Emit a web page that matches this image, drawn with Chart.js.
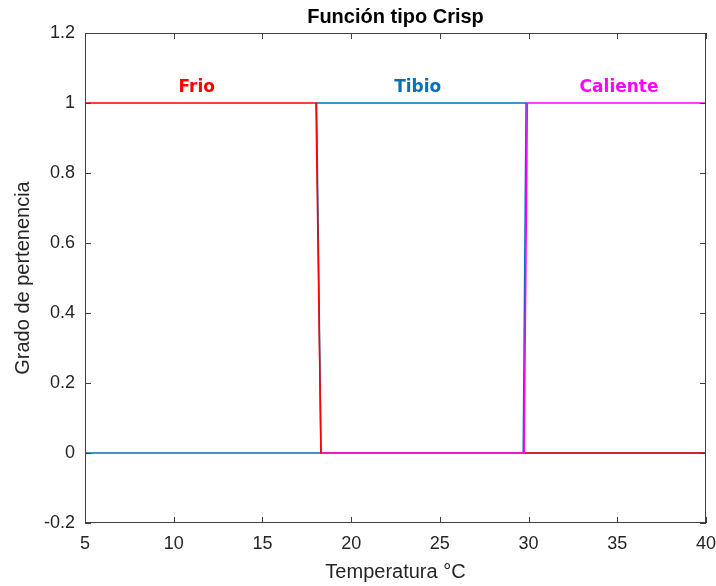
<!DOCTYPE html>
<html>
<head>
<meta charset="utf-8">
<script src="https://cdn.jsdelivr.net/npm/chart.js@4.4.1/dist/chart.umd.min.js"></script>
<style>
  body { margin: 0; background: #fff; }
  #wrap { width: 716px; height: 586px; }
</style>
</head>
<body>
<div id="wrap"><canvas id="crisp" width="716" height="586"></canvas></div>
<script>
// ====================
// DATA
// ====================
const frioX = [5, 18.02, 18.3, 40];
const frioY = [1, 1, 0, 0];

const tibioX = [5, 18.3, 18.05, 29.86, 29.7, 40];
const tibioY = [0, 0, 1, 1, 0, 0];

const calienteX = [18.35, 29.75, 29.93, 40];
const calienteY = [0, 0, 1, 1];

const xTicks = [5, 10, 15, 20, 25, 30, 35, 40];
const yTicks = [-0.2, 0, 0.2, 0.4, 0.6, 0.8, 1, 1.2];
const yTickLabels = ["-0.2", "0", "0.2", "0.4", "0.6", "0.8", "1", "1.2"];

// labels placed in data coordinates
const setNames = ["Frio", "Tibio", "Caliente"];
const setLabelX = [11.3, 23.75, 35.1];
const setLabelY = [1.043, 1.043, 1.043];
const setColors = ["#ff0000", "#0072bd", "#ff00ff"];

function toPoints(xs, ys) {
    return xs.map((x, i) => ({ x: x, y: ys[i] }));
}

const axisColor = "#404040";
const textColor = "#262626";

// box, inward ticks, title and set names
const decorPlugin = {
    id: "decor",
    afterDraw(chart) {
        const ctx = chart.ctx;
        const a = chart.chartArea;
        const xs = chart.scales.x;
        const ys = chart.scales.y;
        const len = 6;

        ctx.save();
        ctx.strokeStyle = axisColor;
        ctx.lineWidth = 1;
        ctx.beginPath();
        xTicks.forEach(v => {
            const px = Math.round(xs.getPixelForValue(v)) + 0.5;
            ctx.moveTo(px, a.bottom); ctx.lineTo(px, a.bottom - len);
            ctx.moveTo(px, a.top); ctx.lineTo(px, a.top + len);
        });
        yTicks.forEach(v => {
            const py = Math.round(ys.getPixelForValue(v)) + 0.5;
            ctx.moveTo(a.left, py); ctx.lineTo(a.left + len, py);
            ctx.moveTo(a.right, py); ctx.lineTo(a.right - len, py);
        });
        ctx.stroke();
        ctx.strokeRect(a.left + 0.5, a.top + 0.5, a.right - a.left - 1, a.bottom - a.top - 1);

        // title
        ctx.fillStyle = "#000";
        ctx.font = "bold 20px 'Liberation Sans', Arial, sans-serif";
        ctx.textAlign = "center";
        ctx.textBaseline = "alphabetic";
        ctx.fillText("Función tipo Crisp", (a.left + a.right) / 2, 23);

        // set names
        ctx.font = "bold 17px 'DejaVu Sans', Verdana, sans-serif";
        ctx.textBaseline = "middle";
        setNames.forEach((name, i) => {
            ctx.fillStyle = setColors[i];
            ctx.fillText(name, xs.getPixelForValue(setLabelX[i]), ys.getPixelForValue(setLabelY[i]));
        });
        ctx.restore();
    }
};

new Chart(document.getElementById("crisp"), {
    type: "scatter",
    data: {
        datasets: [
        {
            label: "Frio",
            data: toPoints(frioX, frioY),
            borderColor: setColors[0],
            order: 1
        },
        {
            label: "Tibio",
            data: toPoints(tibioX, tibioY),
            borderColor: setColors[1],
            order: 2
        },
        {
            label: "Caliente",
            data: toPoints(calienteX, calienteY),
            borderColor: setColors[2],
            order: 0
        }
        ]
    },
    options: {
        responsive: false,
        animation: false,
        showLine: true,
        elements: {
            point: { radius: 0, hoverRadius: 0 },
            line: { borderWidth: 1.6, tension: 0 }
        },
        layout: {
            padding: { top: 33, right: 10, left: 0, bottom: 0 }
        },
        plugins: {
            legend: { display: false },
            tooltip: { enabled: false },
            title: { display: false }
        },
        scales: {
            x: {
                type: "linear",
                min: 5,
                max: 40,
                afterBuildTicks(scale) {
                    scale.ticks = xTicks.map(v => ({ value: v }));
                },
                afterFit(scale) {
                    scale.height = 63;
                    scale.paddingLeft = 0;
                    scale.paddingRight = 0;
                },
                grid: { display: false, drawTicks: false },
                border: { display: false },
                ticks: {
                    padding: 10,
                    color: textColor,
                    maxRotation: 0,
                    autoSkip: false,
                    font: { family: "'Liberation Sans', Arial, sans-serif", size: 18 },
                    callback: v => String(v)
                },
                title: {
                    display: true,
                    text: "Temperatura °C",
                    color: textColor,
                    padding: { top: 0, bottom: 2 },
                    font: { family: "'Liberation Sans', Arial, sans-serif", size: 20 }
                }
            },
            y: {
                min: -0.2,
                max: 1.2,
                afterBuildTicks(scale) {
                    scale.ticks = yTicks.map(v => ({ value: v }));
                },
                afterFit(scale) {
                    scale.width = 85;
                    scale.paddingTop = 0;
                    scale.paddingBottom = 0;
                },
                grid: { display: false, drawTicks: false },
                border: { display: false },
                ticks: {
                    padding: 10,
                    color: textColor,
                    autoSkip: false,
                    font: { family: "'Liberation Sans', Arial, sans-serif", size: 18 },
                    callback: (v, i) => yTickLabels[i]
                },
                title: {
                    display: true,
                    text: "Grado de pertenencia",
                    color: textColor,
                    padding: { top: 11, bottom: 0 },
                    font: { family: "'Liberation Sans', Arial, sans-serif", size: 20 }
                }
            }
        }
    },
    plugins: [decorPlugin]
});
</script>
</body>
</html>
